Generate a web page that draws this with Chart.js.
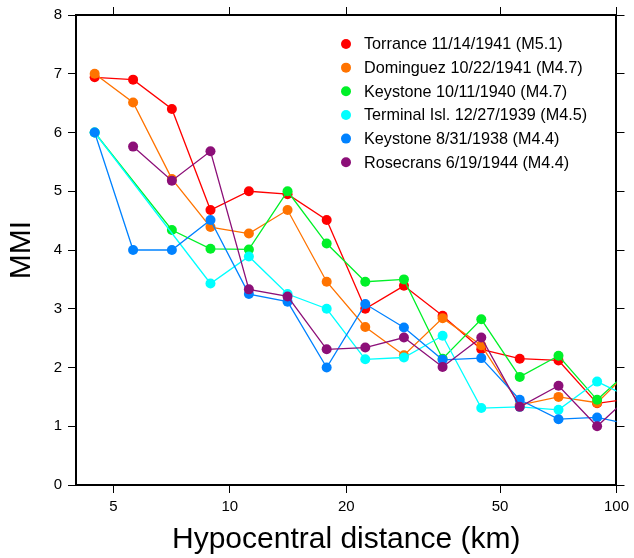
<!DOCTYPE html>
<html>
<head>
<meta charset="utf-8">
<script src="https://cdn.jsdelivr.net/npm/chart.js@4/dist/chart.umd.min.js"></script>
<style>
html,body{margin:0;padding:0;background:#fff;}
canvas{display:block;}
</style>
</head>
<body>
<canvas id="c" width="634" height="558"></canvas>
<script>
// Hypocentral distance bins (km)
const distances = [4.47, 5.62, 7.08, 8.91, 11.2, 14.1, 17.8, 22.4, 28.2, 35.5, 44.7, 56.2, 70.8, 89.1, 112.2];
const xTickValues = [5, 10, 20, 50, 100];
const yTickValues = [0, 1, 2, 3, 4, 5, 6, 7, 8];

const seriesNames = [
  "Torrance 11/14/1941 (M5.1)",
  "Dominguez 10/22/1941 (M4.7)",
  "Keystone 10/11/1940 (M4.7)",
  "Terminal Isl. 12/27/1939 (M4.5)",
  "Keystone 8/31/1938 (M4.4)",
  "Rosecrans 6/19/1944 (M4.4)"
];
const seriesColors = ["#ff0000", "#ff7300", "#00f028", "#00ffff", "#0082ff", "#8c0f78"];

const torrance   = [6.94, 6.90, 6.40, 4.68, 5.00, 4.95, 4.51, 3.00, 3.39, 2.88, 2.31, 2.15, 2.12, 1.39, 1.48];
const dominguez  = [7.00, 6.51, 5.21, 4.39, 4.28, 4.68, 3.46, 2.69, 2.21, 2.84, 2.38, 1.36, 1.50, 1.40, 2.05];
const keystone40 = [6.00, null, 4.34, 4.02, 4.01, 5.00, 4.11, 3.46, 3.50, 2.15, 2.82, 1.84, 2.20, 1.45, 2.05];
const terminal   = [6.00, null, null, 3.43, 3.89, 3.25, 3.00, 2.14, 2.17, 2.54, 1.31, 1.33, 1.28, 1.76, 1.44];
const keystone38 = [6.00, 4.00, 4.00, 4.51, 3.25, 3.12, 2.00, 3.08, 2.68, 2.13, 2.16, 1.45, 1.12, 1.15, 1.01];
const rosecrans  = [null, 5.76, 5.18, 5.68, 3.33, 3.21, 2.31, 2.34, 2.51, 2.01, 2.51, 1.33, 1.69, 1.00, 1.61];

const seriesValues = [torrance, dominguez, keystone40, terminal, keystone38, rosecrans];

const FONT = "'Liberation Sans', Arial, Helvetica, sans-serif";

const datasets = seriesValues.map((vals, i) => ({
  label: seriesNames[i],
  data: distances.map((d, j) => ({x: d, y: vals[j]})),
  borderColor: seriesColors[i],
  backgroundColor: seriesColors[i],
  pointBackgroundColor: seriesColors[i],
  pointBorderColor: seriesColors[i],
  pointBorderWidth: 0,
  pointRadius: 5,
  borderWidth: 1.3,
  tension: 0,
  spanGaps: true,
  clip: 0,
  order: 5 - i
}));

const legendPlugin = {
  id: 'insideLegend',
  afterDraw(chart) {
    const ctx = chart.ctx;
    ctx.save();
    ctx.font = "16.2px " + FONT;
    ctx.textBaseline = 'middle';
    ctx.textAlign = 'left';
    const x0 = 346, y0 = 44, dy = 23.65;
    seriesNames.forEach((name, i) => {
      const y = y0 + i * dy;
      ctx.fillStyle = seriesColors[i];
      ctx.beginPath();
      ctx.arc(x0, y, 5, 0, Math.PI * 2);
      ctx.fill();
      ctx.fillStyle = '#000';
      ctx.fillText(name, 364, y + 1);
    });
    ctx.restore();
  }
};

const tickFont = {family: FONT, size: 15};
const titleFont = {family: FONT, size: 30, lineHeight: 1.2};

function fixedTicks(values) {
  return function(scale) {
    scale.ticks = values.map(v => ({value: v}));
  };
}

new Chart(document.getElementById('c'), {
  type: 'line',
  data: {datasets},
  plugins: [legendPlugin],
  options: {
    responsive: false,
    animation: false,
    events: [],
    layout: {padding: 0},
    plugins: {legend: {display: false}, tooltip: {enabled: false}},
    scales: {
      x: {
        type: 'logarithmic', position: 'bottom', min: 4.0, max: 100,
        afterBuildTicks: fixedTicks(xTickValues),
        afterFit(s) { s.height = 73; },
        ticks: {font: tickFont, color: '#000', padding: 5, maxRotation: 0, autoSkip: false,
                callback: (v) => String(v)},
        grid: {display: true, drawOnChartArea: false, drawTicks: true, tickLength: 8, tickColor: '#000', tickWidth: 1},
        border: {display: true, color: '#000', width: 2},
        title: {display: true, text: 'Hypocentral distance (km)', color: '#000', font: titleFont, padding: {top: 0, bottom: 0}}
      },
      x2: {
        type: 'logarithmic', position: 'top', min: 4.0, max: 100,
        afterBuildTicks: fixedTicks(xTickValues),
        afterFit(s) { s.height = 15; },
        ticks: {display: false},
        grid: {display: true, drawOnChartArea: false, drawTicks: true, tickLength: 8, tickColor: '#000', tickWidth: 1},
        border: {display: true, color: '#000', width: 2}
      },
      y: {
        type: 'linear', position: 'left', min: 0, max: 8,
        afterBuildTicks: fixedTicks(yTickValues),
        afterFit(s) { s.width = 76; },
        ticks: {font: tickFont, color: '#000', padding: 6, callback: (v) => String(v)},
        grid: {display: true, drawOnChartArea: false, drawTicks: true, tickLength: 8, tickColor: '#000', tickWidth: 1},
        border: {display: true, color: '#000', width: 2},
        title: {display: true, text: 'MMI', color: '#000', font: titleFont, padding: {top: 4, bottom: 0}}
      },
      y2: {
        type: 'linear', position: 'right', min: 0, max: 8,
        afterBuildTicks: fixedTicks(yTickValues),
        afterFit(s) { s.width = 16; },
        ticks: {display: false},
        grid: {display: true, drawOnChartArea: false, drawTicks: true, tickLength: 8, tickColor: '#000', tickWidth: 1},
        border: {display: true, color: '#000', width: 2}
      }
    }
  }
});
</script>
</body>
</html>
